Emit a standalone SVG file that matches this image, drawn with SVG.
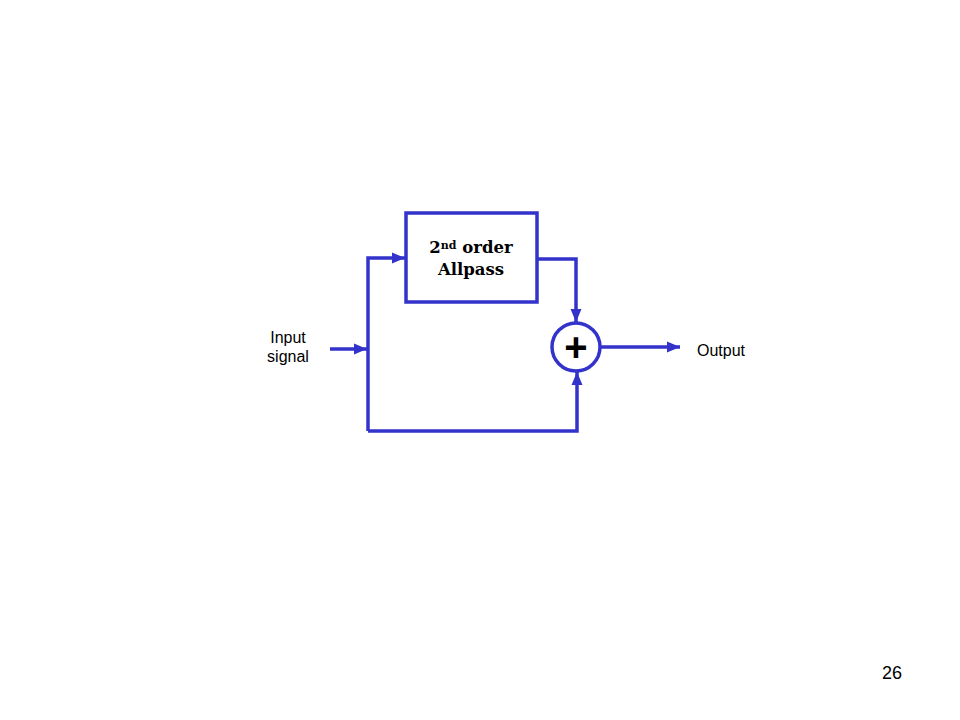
<svg xmlns="http://www.w3.org/2000/svg" width="960" height="720" viewBox="0 0 960 720">
<defs>
<style>
.ln{fill:none;stroke:#3333cc;stroke-width:3.5}
.lbl{font-family:"Liberation Sans",Arial,sans-serif;font-size:16px;fill:#000}
.ser{font-family:"DejaVu Serif","Liberation Serif",serif;font-size:16.5px;font-weight:bold;fill:#000}
</style>
<marker id="ah" markerWidth="14" markerHeight="14" viewBox="0 0 14 14" refX="13" refY="7" orient="auto" markerUnits="userSpaceOnUse"><path d="M0,1.5 L13,7 L0,12.5 z" fill="#3333cc"/></marker>
</defs>
<rect width="960" height="720" fill="#fff"/>
<g id="connectors">
<path class="ln" d="M330,349 H367" marker-end="url(#ah)"/>
<path class="ln" d="M368,431 V258 H405" marker-end="url(#ah)"/>
<path class="ln" d="M368,431 H577 V372" marker-end="url(#ah)"/>
<path class="ln" d="M537,259 H576 V322" marker-end="url(#ah)"/>
<path class="ln" d="M600,347 H680" marker-end="url(#ah)"/>
</g>
<g id="allpass">
<rect class="ln" x="406" y="213" width="131" height="89" fill="#fff"/>
<text class="ser" x="471" y="253" text-anchor="middle">2<tspan font-size="11" dy="-4">nd</tspan><tspan dy="4"> order</tspan></text>
<text class="ser" x="471" y="275" text-anchor="middle">Allpass</text>
</g>
<g id="sum">
<circle class="ln" cx="576" cy="347" r="24" fill="#fff"/>
<text x="576" y="361" text-anchor="middle" style="font-family:'Liberation Sans',Arial,sans-serif;font-size:40px;font-weight:bold">+</text>
</g>
<g id="input">
<text class="lbl" x="288" y="343" text-anchor="middle">Input</text>
<text class="lbl" x="288" y="362" text-anchor="middle">signal</text>
</g>
<g id="output">
<text class="lbl" x="697" y="356">Output</text>
</g>
<text x="892" y="679" text-anchor="middle" style="font-family:'Liberation Sans',Arial,sans-serif;font-size:18px">26</text>
</svg>
